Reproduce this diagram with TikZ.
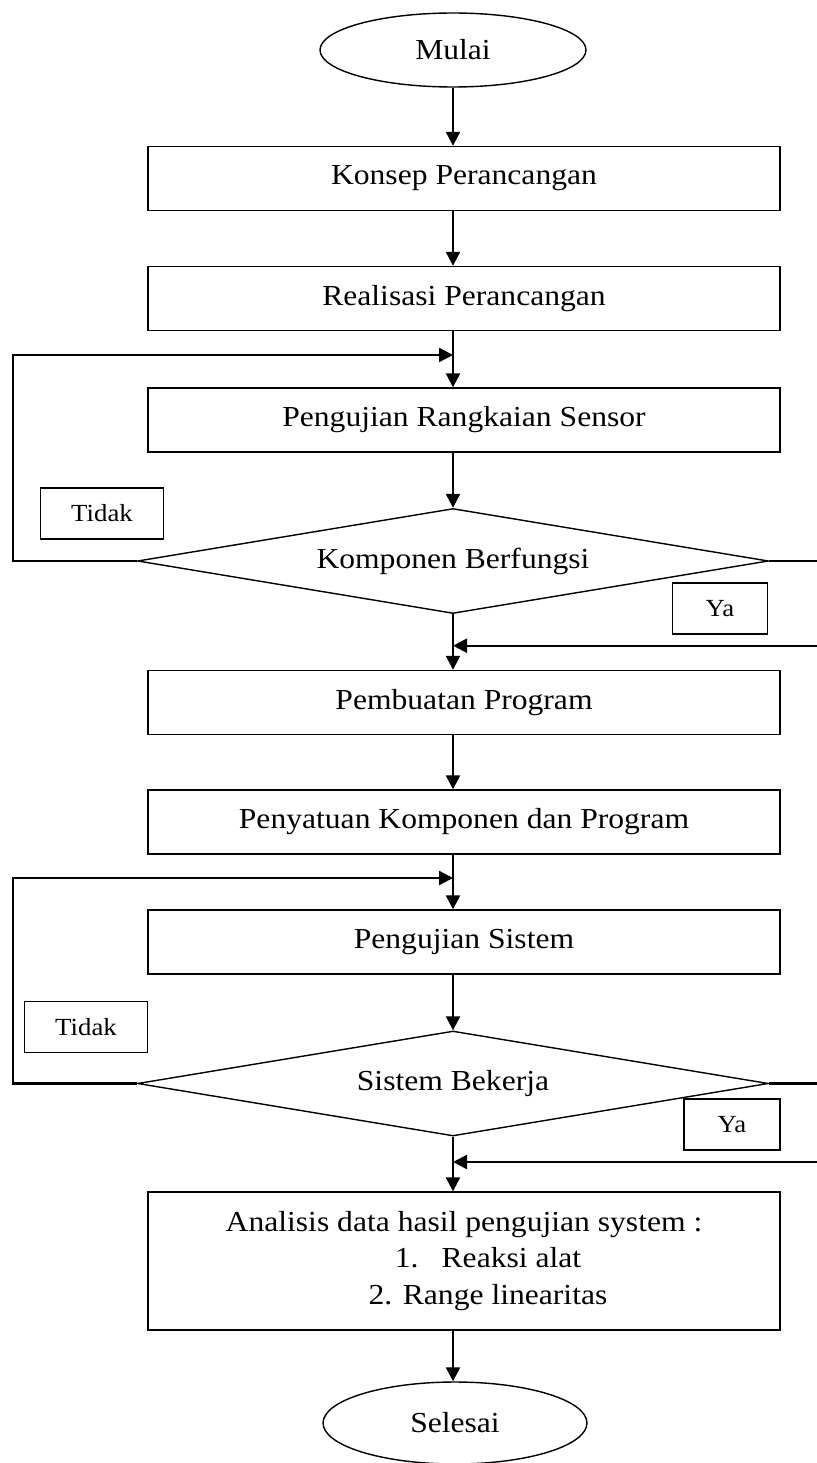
\documentclass[tikz,border=0pt]{standalone}
\usepackage{fontspec}
\setmainfont{Liberation Serif}[FakeStretch=1.09]
\usetikzlibrary{arrows.meta,positioning,shapes.geometric}

\begin{document}
\begin{tikzpicture}[x=0.02cm,y=-0.02cm,font=\fontsize{16.5}{21}\selectfont]
	\useasboundingbox (0,0) rectangle (817,1463);
	\coordinate (spine) at (453,0);
	\coordinate (rim) at (817,0);
	\coordinate (loop1) at (13,355);
	\coordinate (loop2) at (13,878);
	\coordinate (join1) at (817,645.7);
	\coordinate (join2) at (817,1162);
	\begin{scope}[every node/.style={ellipse,draw,line width=0.8pt,minimum width=5.32cm,minimum height=1.48cm}]
		\node (mulai) at (453,50) {Mulai};
		\node[minimum width=5.28cm,minimum height=1.64cm] (selesai) at (455,1423) {Selesai};
	\end{scope}
	\begin{scope}[every node/.style={rectangle,draw,line width=0.8pt,minimum width=12.65cm,minimum height=1.28cm}]
		\node (konsep) at (464,178.5) {Konsep Perancangan};
		\node (realisasi) at (464,298.5) {Realisasi Perancangan};
		\node (sensor) at (464,420) {Pengujian Rangkaian Sensor};
		\node (pembuatan) at (464,702.5) {Pembuatan Program};
		\node (penyatuan) at (464,822) {Penyatuan Komponen dan Program};
		\node (sistem) at (464,942) {Pengujian Sistem};
		\node[minimum height=2.76cm,align=center] (analisis) at (464,1261) {Analisis data hasil pengujian system :\\
			\hspace*{0.96cm}1.\hspace{0.8em}Reaksi alat\\
			\hspace*{0.96cm}2. Range linearitas};
	\end{scope}
	\begin{scope}[every node/.style={diamond,draw,line width=0.8pt,aspect=6,inner sep=1pt,minimum width=12.62cm,minimum height=2.1cm}]
		\node (berfungsi) at (453,561) {Komponen Berfungsi};
		\node (bekerja) at (453,1083.5) {Sistem Bekerja};
	\end{scope}
	\begin{scope}[every node/.style={rectangle,draw,line width=0.8pt,minimum height=1.02cm,font=\fontsize{14}{17}\selectfont}]
		\node[minimum width=2.47cm] (tidak1) at (102,513.5) {Tidak};
		\node[minimum width=1.91cm] (ya1) at (720,608.5) {Ya};
		\node[minimum width=2.46cm] (tidak2) at (86,1027) {Tidak};
		\node[minimum width=1.92cm] (ya2) at (732,1124.5) {Ya};
	\end{scope}
	\begin{scope}[line width=1.3pt,-{Triangle[length=2.8mm,width=2.8mm]}]
		\draw (mulai.south) -- (konsep.north -| spine);
		\draw (konsep.south -| spine) -- (realisasi.north -| spine);
		\draw (realisasi.south -| spine) -- (sensor.north -| spine);
		\draw (sensor.south -| spine) -- (berfungsi.north);
		\draw (berfungsi.south) -- (pembuatan.north -| spine);
		\draw (pembuatan.south -| spine) -- (penyatuan.north -| spine);
		\draw (penyatuan.south -| spine) -- (sistem.north -| spine);
		\draw (sistem.south -| spine) -- (bekerja.north);
		\draw (bekerja.south) -- (analisis.north -| spine);
		\draw (analisis.south -| spine) -- (selesai.north -| spine);
		\draw (berfungsi.west) -| (loop1) -- (loop1 -| spine);
		\draw (bekerja.west) -| (loop2) -- (loop2 -| spine);
		\draw (join1) -- (join1 -| spine);
		\draw (join2) -- (join2 -| spine);
		\draw[-] (berfungsi.east) -- (berfungsi.east -| rim);
		\draw[-] (bekerja.east) -- (bekerja.east -| rim);
	\end{scope}
\end{tikzpicture}
\end{document}
